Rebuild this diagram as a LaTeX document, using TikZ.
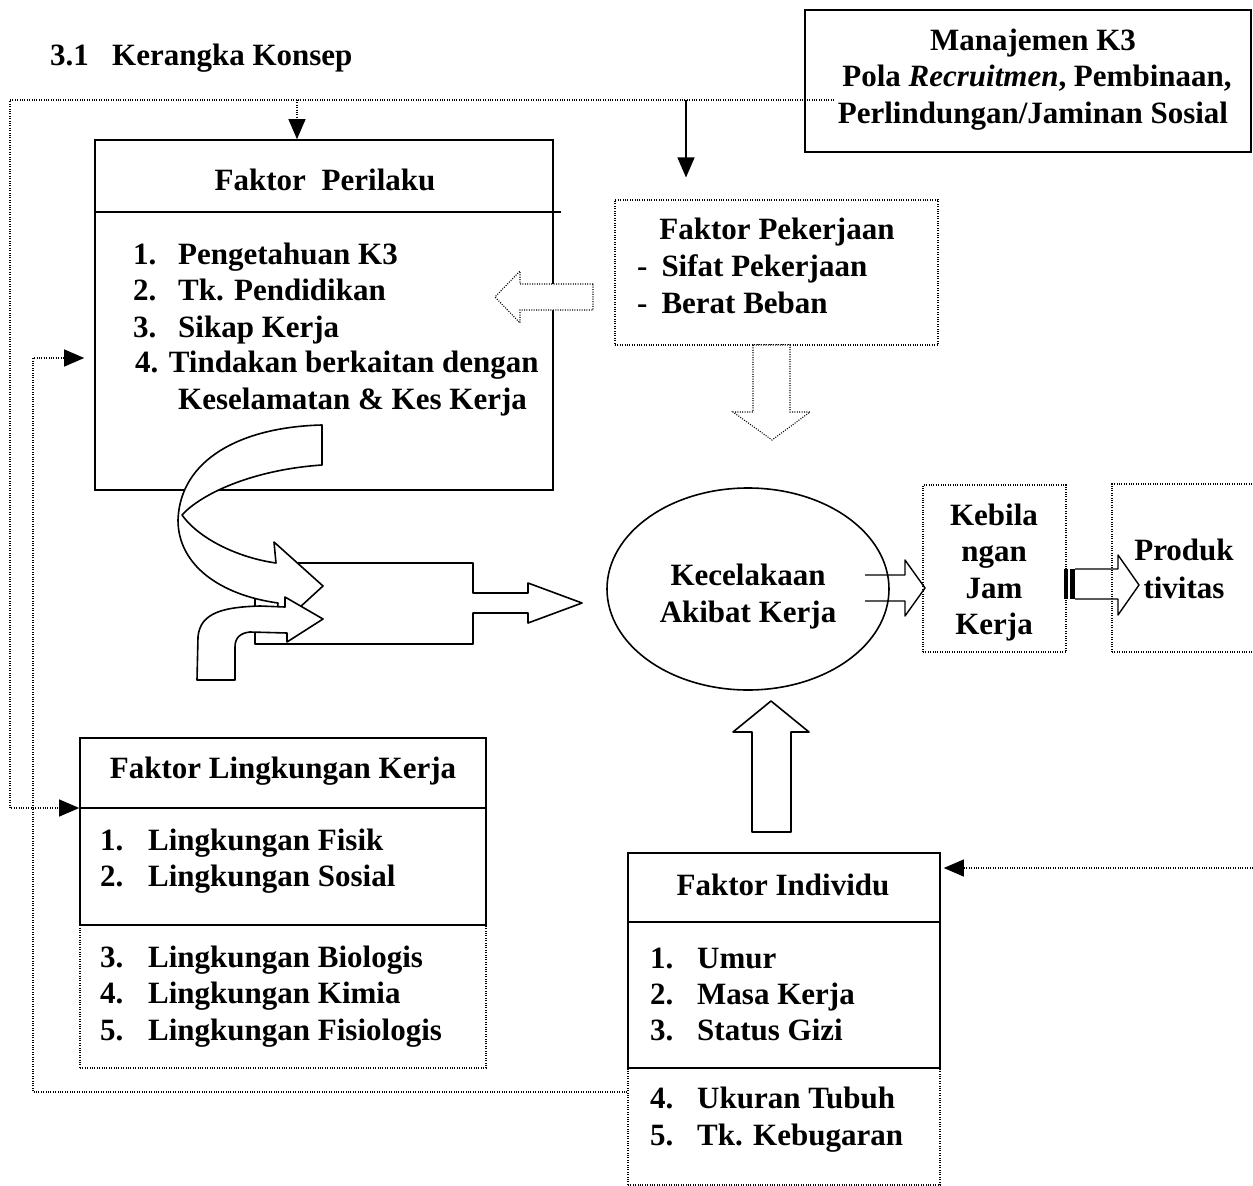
\documentclass[tikz,border=0pt]{standalone}
\usepackage{fontspec}
\setmainfont{Liberation Serif}
\usetikzlibrary{arrows.meta,calc,shapes.geometric}

\tikzset{
  lbl/.style={font=\fontsize{31}{36}\selectfont\bfseries, inner sep=0pt, anchor=base},
  lblw/.style={lbl, anchor=base west},
  solidbox/.style={draw, line width=1.6pt, inner sep=0pt},
  dotbox/.style={draw, line width=1.1pt, dash pattern=on 1pt off 1.4pt, inner sep=0pt},
  dotline/.style={line width=1.1pt, dash pattern=on 1pt off 1.4pt},
  tip/.style={-{Triangle[length=20pt,width=17pt]}},
  block/.style={draw, line width=1.6pt, fill=white, line join=round},
  dotblock/.style={dotline, fill=white},
}

\begin{document}
\begin{tikzpicture}[x=1pt,y=-1pt]
\path[use as bounding box] (0,0) rectangle (1253,1186);
\fill[white] (0,0) rectangle (1253,1186);

% ---- boxes ----
\node[dotbox, minimum width=323pt, minimum height=145pt] (pek) at (776.5,272.5) {};
\node[dotbox, minimum width=143pt, minimum height=167pt] (keb) at (994.5,568.5) {};
\node[dotbox, minimum width=148pt, minimum height=168pt] (prod) at (1186,568) {};
\node[dotbox, minimum width=406pt, minimum height=143pt] (lk2) at (283,996.5) {};
\node[dotbox, minimum width=312pt, minimum height=117pt] (ind2) at (784,1126.5) {};

\node[solidbox, minimum width=446pt, minimum height=142pt] (mk3) at (1028,81) {};
\node[solidbox, minimum width=458pt, minimum height=350pt] (per) at (324,315) {};
\node[solidbox, minimum width=406pt, minimum height=187pt] (lk) at (283,831.5) {};
\node[solidbox, minimum width=312pt, minimum height=215pt] (ind) at (784,960.5) {};
\node[draw, ellipse, line width=1.6pt, minimum width=282pt, minimum height=202pt, inner sep=0pt] (acc) at (748,589) {};

% header dividers
\draw[line width=1.6pt] (per.west |- 0,212) -- ($(per.east |- 0,212)+(7,0)$);
\draw[line width=1.6pt] (lk.west |- 0,808) -- (lk.east |- 0,808);
\draw[line width=1.6pt] (ind.west |- 0,922) -- (ind.east |- 0,922);

% ---- connectors ----
\coordinate (topL) at (10,100);
\coordinate (inL) at (33,1092);
\draw[dotline, tip] ($(mk3.west |- topL)+(30,0)$) -- (topL) |- (lk.west |- 0,808);
\draw[dotline, tip] (topL -| 297,0) -- (per.north -| 297,0);
\draw[line width=1.4pt, tip] (topL -| 686,0) -- ($(pek.north -| 686,0)+(0,-22)$);
\draw[dotline, tip] (ind2.west |- inL) -- (inL) |- ($(per.west |- 0,358)+(-10,0)$);
\draw[dotline, tip] (1253,868) -- ($(ind.east |- 0,868)+(3,0)$);

% ---- block arrows ----
% from Faktor Pekerjaan to Faktor Perilaku
\draw[dotblock] (593,284) -- (520,284) -- (520,271) -- (495,297) -- (520,323) -- (520,310) -- (593,310) -- cycle;
% from Faktor Pekerjaan down to the accident
\draw[dotblock] (753,345) -- (753,412) -- (733,412) -- (772,440) -- (810,412) -- (790,412) -- (790,345) -- cycle;
% from Faktor Individu up to the accident
\draw[block] (752,832) -- (752,732) -- (733,732) -- (771,701) -- (809,732) -- (791,732) -- (791,832) -- cycle;
% accident to lost working hours
\draw[line width=1.4pt, line join=round] (865,575) -- (905,575) -- (905,560) -- (925,588) -- (905,616) -- (905,601) -- (865,601);
% striped arrow to productivity
\fill (1064,569) rectangle (1068,599);
\fill (1070,569) rectangle (1075,599);
\draw[line width=1.4pt, line join=round] (1075,569) -- (1118,569) -- (1118,555) -- (1139,585) -- (1118,615) -- (1118,599) -- (1075,599);

% merge block with outgoing arrow
\draw[block] (255,563) -- (473,563) -- (473,593) -- (528,593) -- (528,583) -- (582,603)
  -- (528,623) -- (528,613) -- (473,613) -- (473,644) -- (255,644) -- cycle;
% curved arrow out of Faktor Perilaku
\draw[block] (322,425) .. controls (240,427) and (180,460) .. (178,520)
  .. controls (178,565) and (220,595) .. (278,603)
  -- (275,630) -- (323,586) -- (274,542) -- (276,563)
  .. controls (240,558) and (200,540) .. (182,515)
  .. controls (200,495) and (250,470) .. (322,465) -- cycle;
% bent arrow from Faktor Lingkungan Kerja
\draw[block] (197,680) -- (198,637) .. controls (200,612) and (225,607) .. (260,606)
  -- (285,607) -- (285,597) -- (323,619) -- (287,642) -- (287,633) -- (250,632)
  .. controls (240,633) and (235,638) .. (235,647) -- (235,680) -- cycle;

% ---- texts ----
\node[lblw] (ttl) at (50,65) {\makebox[62pt][l]{3.1}Kerangka Konsep};

\node[lbl] (mk3a) at (1033,50) {Manajemen K3};
\node[lbl] (mk3b) at (1037,86) {Pola \textit{Recruitmen}, Pembinaan,};
\node[lbl] (mk3c) at (1033,123) {Perlindungan/Jaminan Sosial};

\node[lbl] (perh) at (325,190) {Faktor\hspace{8pt} Perilaku};
\node[lblw] (p1n) at (133,264) {1.};
\node[lblw] (p1) at (178,264) {Pengetahuan K3};
\node[lblw] (p2n) at (133,300) {2.};
\node[lblw] (p2) at (178,300) {Tk. Pendidikan};
\node[lblw] (p3n) at (133,337) {3.};
\node[lblw] (p3) at (178,337) {Sikap Kerja};
\node[lblw] (p4) at (135,372) {4. Tindakan berkaitan dengan};
\node[lblw] (p5) at (178,409) {Keselamatan \& Kes Kerja};

\node[lbl] (pekh) at (777,239) {Faktor Pekerjaan};
\node[lblw] (pk1) at (637,276) {-\hspace{14pt}Sifat Pekerjaan};
\node[lblw] (pk2) at (637,313) {-\hspace{14pt}Berat Beban};

\node[lbl] (acc1) at (748,585) {Kecelakaan};
\node[lbl] (acc2) at (748,622) {Akibat Kerja};

\node[lbl] (kb1) at (994,525) {Kebila};
\node[lbl] (kb2) at (994,561) {ngan};
\node[lbl] (kb3) at (994,598) {Jam};
\node[lbl] (kb4) at (994,634) {Kerja};

\node[lbl] (pr1) at (1184,560) {Produk};
\node[lbl] (pr2) at (1184,598) {tivitas};

\node[lbl] (lkh) at (283,778) {Faktor Lingkungan Kerja};
\node[lblw] (l1n) at (100,850) {1.};
\node[lblw] (l1) at (148,850) {Lingkungan Fisik};
\node[lblw] (l2n) at (100,886) {2.};
\node[lblw] (l2) at (148,886) {Lingkungan Sosial};
\node[lblw] (l3n) at (100,967) {3.};
\node[lblw] (l3) at (148,967) {Lingkungan Biologis};
\node[lblw] (l4n) at (100,1003) {4.};
\node[lblw] (l4) at (148,1003) {Lingkungan Kimia};
\node[lblw] (l5n) at (100,1040) {5.};
\node[lblw] (l5) at (148,1040) {Lingkungan Fisiologis};

\node[lbl] (indh) at (783,895) {Faktor Individu};
\node[lblw] (i1n) at (650,968) {1.};
\node[lblw] (i1) at (697,968) {Umur};
\node[lblw] (i2n) at (650,1004) {2.};
\node[lblw] (i2) at (697,1004) {Masa Kerja};
\node[lblw] (i3n) at (650,1040) {3.};
\node[lblw] (i3) at (697,1040) {Status Gizi};
\node[lblw] (i4n) at (650,1108) {4.};
\node[lblw] (i4) at (697,1108) {Ukuran Tubuh};
\node[lblw] (i5n) at (650,1145) {5.};
\node[lblw] (i5) at (697,1145) {Tk. Kebugaran};
\end{tikzpicture}
\end{document}
